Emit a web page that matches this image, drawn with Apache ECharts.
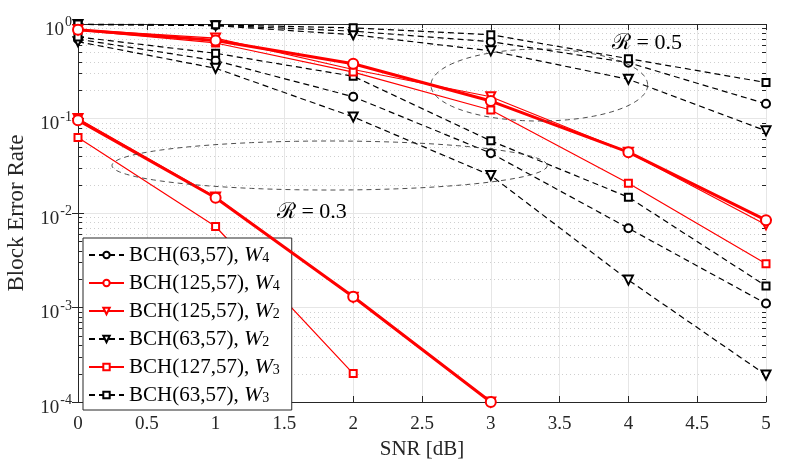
<!DOCTYPE html>
<html>
<head>
<meta charset="utf-8">
<script src="https://cdn.jsdelivr.net/npm/echarts@6/dist/echarts.min.js"></script>
<style>
  html, body { margin: 0; padding: 0; background: #fff; }
  #chart { width: 789px; height: 461px; }
</style>
</head>
<body>
<div id="chart"></div>
<script>
var chart = echarts.init(document.getElementById('chart'));

var serif = "'Liberation Serif', 'Times New Roman', 'DejaVu Serif', serif";

// SNR points [dB]
var snr = [0, 1, 2, 3, 4, 5];

// rate 0.5 curves
var bch63W4_r05  = [0.99, 0.97, 0.84, 0.65, 0.39, 0.143];
var bch125W4_r05 = [0.87, 0.67, 0.38, 0.153, 0.044, 0.0084];
var bch125W2_r05 = [0.87, 0.71, 0.33, 0.17, 0.044, 0.0075];
var bch63W2_r05  = [0.99, 0.96, 0.77, 0.52, 0.26, 0.074];
var bch127W3_r05 = [0.86, 0.63, 0.31, 0.123, 0.0206, 0.0029];
var bch63W3_r05  = [1.0, 0.98, 0.91, 0.77, 0.43, 0.24];

// rate 0.3 curves
var bch63W4_r03  = [0.69, 0.41, 0.17, 0.043, 0.0069, 0.0011];
var bch125W4_r03 = [0.096, 0.0145, 0.0013, 0.0001];
var bch125W2_r03 = [0.1, 0.0148, 0.00128, 0.0001];
var bch63W2_r03  = [0.65, 0.34, 0.104, 0.025, 0.00195, 0.000193];
var bch127W3_r03 = [0.063, 0.0072, 0.0002];
var bch63W3_r03  = [0.73, 0.49, 0.28, 0.058, 0.0147, 0.00169];

var legendNames = [
  'BCH(63,57), W4',
  'BCH(125,57), W4',
  'BCH(125,57), W2',
  'BCH(63,57), W2',
  'BCH(127,57), W3',
  'BCH(63,57), W3'
];

// y axis decades (exponents) and minor steps
var decades = [-4, -3, -2, -1, 0];
var minorSteps = [2, 3, 4, 5, 6, 7, 8, 9];

// ellipses: [xLeft, xRight, yBottom, yTop]
var ellipses = [
  [0.247, 3.41, 0.0175, 0.0578],
  [2.565, 4.14, 0.094, 0.543]
];
// rate labels: [x, y, text]
var rateLabels = [
  [4.135, 0.63, 'ℛ = 0.5'],
  [1.70, 0.0103, 'ℛ = 0.3']
];

function zip(vals) {
  var out = [];
  vals.forEach(function (v, i) { out.push([snr[i], v]); });
  return out;
}

var blackDash = { color: '#000', width: 1.2, type: [6, 4] };

var looks = {
  'BCH(63,57), W4':  { symbol: 'emptyCircle', size: 8, rot: 0, line: blackDash, z: 2, border: 1 },
  'BCH(125,57), W4': { symbol: 'emptyCircle', size: 10, rot: 0, line: { color: '#ff0000', width: 3, type: 'solid' }, z: 4, border: 2.5 },
  'BCH(125,57), W2': { symbol: 'emptyTriangle', size: 9, rot: 180, line: { color: '#ff0000', width: 1.2, type: 'solid' }, z: 3, border: 1 },
  'BCH(63,57), W2':  { symbol: 'emptyTriangle', size: 9, rot: 180, line: blackDash, z: 2, border: 1 },
  'BCH(127,57), W3': { symbol: 'emptyRect', size: 7, rot: 0, line: { color: '#ff0000', width: 1.2, type: 'solid' }, z: 3, border: 1 },
  'BCH(63,57), W3':  { symbol: 'emptyRect', size: 7, rot: 0, line: blackDash, z: 2, border: 1 }
};

var curveSets = [
  ['BCH(63,57), W4', bch63W4_r05, bch63W4_r03],
  ['BCH(125,57), W4', bch125W4_r05, bch125W4_r03],
  ['BCH(125,57), W2', bch125W2_r05, bch125W2_r03],
  ['BCH(63,57), W2', bch63W2_r05, bch63W2_r03],
  ['BCH(127,57), W3', bch127W3_r05, bch127W3_r03],
  ['BCH(63,57), W3', bch63W3_r05, bch63W3_r03]
];

var series = [];

// minor dotted grid + minor ticks
var minorData = [];
decades.slice(0, -1).forEach(function (e) {
  minorSteps.forEach(function (m) { minorData.push([0, m * Math.pow(10, e)]); });
});
series.push({
  type: 'custom',
  silent: true,
  z: 1,
  data: minorData,
  encode: { x: 0, y: 1 },
  renderItem: function (params, api) {
    var cs = params.coordSys;
    var y = Math.round(api.coord([0, api.value(1)])[1]) + 0.5;
    return {
      type: 'group',
      children: [
        { type: 'line', shape: { x1: cs.x, y1: y, x2: cs.x + cs.width, y2: y },
          style: { stroke: '#cfcfcf', lineWidth: 1, lineDash: [1, 3] } },
        { type: 'line', shape: { x1: cs.x, y1: y, x2: cs.x + 4, y2: y },
          style: { stroke: '#262626', lineWidth: 1 } },
        { type: 'line', shape: { x1: cs.x + cs.width - 4, y1: y, x2: cs.x + cs.width, y2: y },
          style: { stroke: '#262626', lineWidth: 1 } }
      ]
    };
  }
});

curveSets.forEach(function (c) {
  var lk = looks[c[0]];
  [c[1], c[2]].forEach(function (vals) {
    series.push({
      name: c[0],
      type: 'line',
      data: zip(vals),
      z: lk.z,
      symbol: lk.symbol,
      symbolSize: lk.size,
      symbolRotate: lk.rot,
      showAllSymbol: true,
      lineStyle: { color: lk.line.color, width: lk.line.width, type: lk.line.type },
      itemStyle: { color: lk.line.color, borderColor: lk.line.color, borderWidth: lk.border },
      emphasis: { disabled: true },
      animation: false
    });
  });
});

// dashed ellipses
series.push({
  type: 'custom',
  silent: true,
  z: 5,
  data: ellipses,
  encode: { x: [0, 1], y: [2, 3] },
  renderItem: function (params, api) {
    var a = api.coord([api.value(0), api.value(2)]);
    var b = api.coord([api.value(1), api.value(3)]);
    var cx = (a[0] + b[0]) / 2, cy = (a[1] + b[1]) / 2;
    var rx = Math.abs(b[0] - a[0]) / 2, ry = Math.abs(b[1] - a[1]) / 2;
    var pts = [];
    for (var i = 0; i <= 120; i++) {
      var t = i / 120 * 2 * Math.PI;
      pts.push([cx + rx * Math.cos(t), cy + ry * Math.sin(t)]);
    }
    return { type: 'polyline', shape: { points: pts },
      style: { stroke: '#3a3a3a', fill: null, lineWidth: 0.9, lineDash: [5, 4] } };
  }
});

// rate annotations
series.push({
  type: 'custom',
  silent: true,
  z: 6,
  data: rateLabels,
  encode: { x: 0, y: 1 },
  renderItem: function (params, api) {
    var p = api.coord([api.value(0), api.value(1)]);
    return { type: 'text', x: p[0], y: p[1],
      style: { text: rateLabels[params.dataIndex][2], fill: '#000', font: '22px ' + serif,
        align: 'center', verticalAlign: 'middle' } };
  }
});

var option = {
  animation: false,
  backgroundColor: '#fff',
  grid: { left: 78, right: 23, top: 24, bottom: 59, containLabel: false, outerBoundsMode: 'none' },
  legend: {
    data: legendNames,
    orient: 'vertical',
    left: 83,
    top: 238,
    padding: [6, 12, 4, 5],
    itemGap: 6,
    itemWidth: 35,
    itemHeight: 8,
    backgroundColor: '#fff',
    borderColor: '#262626',
    borderWidth: 1,
    borderRadius: 0,
    selectedMode: false,
    formatter: function (name) {
      var m = name.match(/^(.*)W(\d)$/);
      return '{t|' + m[1] + '}{w|W}{s|' + m[2] + '}';
    },
    textStyle: {
      color: '#000',
      fontFamily: serif,
      fontSize: 21,
      rich: {
        t: { fontFamily: serif, fontSize: 21, color: '#000', lineHeight: 20 },
        w: { fontFamily: serif, fontSize: 22, fontStyle: 'italic', color: '#000', lineHeight: 20 },
        s: { fontFamily: serif, fontSize: 14, color: '#000', verticalAlign: 'bottom', lineHeight: 14 }
      }
    }
  },
  xAxis: [{
    type: 'value',
    min: 0,
    max: 5,
    interval: 0.5,
    name: 'SNR [dB]',
    nameLocation: 'middle',
    nameGap: 36,
    nameTextStyle: { fontFamily: serif, fontSize: 21, color: '#262626' },
    axisLine: { show: true, lineStyle: { color: '#262626', width: 1 } },
    axisTick: { show: true, inside: true, length: 6, lineStyle: { color: '#262626' } },
    axisLabel: { fontFamily: serif, fontSize: 19, color: '#262626', margin: 13 },
    splitLine: { show: true, lineStyle: { color: '#e6e6e6', width: 1 } }
  }, {
    type: 'value',
    position: 'top',
    min: 0,
    max: 5,
    interval: 0.5,
    axisLine: { show: true, lineStyle: { color: '#262626', width: 1 } },
    axisTick: { show: true, inside: true, length: 6, lineStyle: { color: '#262626' } },
    axisLabel: { show: false },
    splitLine: { show: false }
  }],
  yAxis: [{
    type: 'log',
    logBase: 10,
    min: 1e-4,
    max: 1,
    name: 'Block Error Rate',
    nameLocation: 'middle',
    nameGap: 50,
    nameTextStyle: { fontFamily: serif, fontSize: 23, color: '#262626' },
    axisLine: { show: true, lineStyle: { color: '#262626', width: 1 } },
    axisTick: { show: true, inside: true, length: 6, lineStyle: { color: '#262626' } },
    axisLabel: {
      margin: 6,
      formatter: function (v) {
        var e = Math.round(Math.log10(v));
        return '{b|10}{e|' + e + '}';
      },
      rich: {
        b: { fontFamily: serif, fontSize: 19, color: '#262626', padding: [12, 0, 0, 0], verticalAlign: 'bottom' },
        e: { fontFamily: serif, fontSize: 14, color: '#262626', padding: [7, 0, 0, 1], verticalAlign: 'top' }
      }
    },
    splitLine: { show: true, lineStyle: { color: '#e6e6e6', width: 1 } }
  }, {
    type: 'log',
    logBase: 10,
    min: 1e-4,
    max: 1,
    position: 'right',
    axisLine: { show: true, lineStyle: { color: '#262626', width: 1 } },
    axisTick: { show: true, inside: true, length: 6, lineStyle: { color: '#262626' } },
    axisLabel: { show: false },
    splitLine: { show: false }
  }],
  series: series
};

chart.setOption(option);
</script>
</body>
</html>
